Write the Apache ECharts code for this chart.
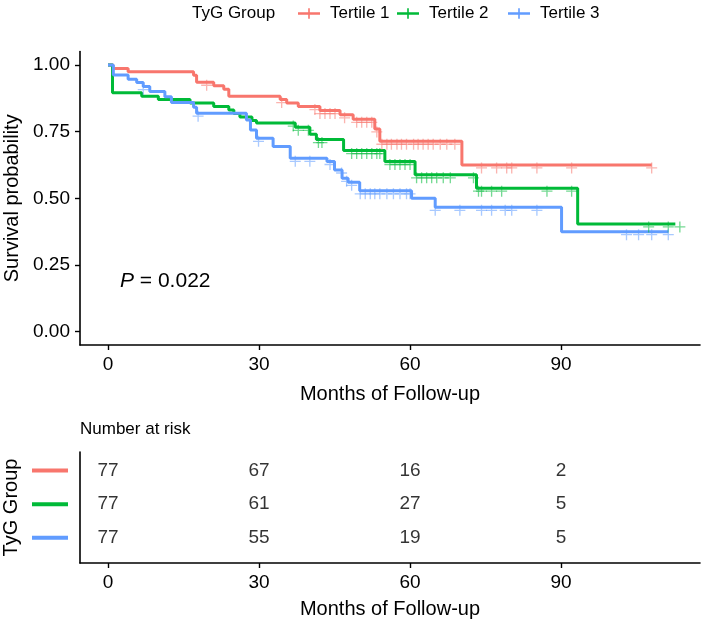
<!DOCTYPE html>
<html>
<head>
<meta charset="utf-8">
<script src="https://cdn.jsdelivr.net/npm/echarts@6/dist/echarts.min.js"></script>
<style>html,body{margin:0;padding:0;background:#fff;}#c{width:708px;height:623px;}</style>
</head>
<body>
<div id="c"></div>
<script>
// ---- Data ----
const groupNames = ['Tertile 1', 'Tertile 2', 'Tertile 3'];
const colors = ['#F8766D', '#00BA38', '#619CFF'];

// Kaplan-Meier step points [time, survival after step]
const t1Times = [0, 1.0, 4.0, 17.0, 17.6, 21.0, 23.0, 24.0, 34.2, 35.5, 37.8, 42.1, 46.1, 48.7, 53.0, 54.0, 70.3, 108];
const t1Surv  = [1.0, 0.987, 0.974, 0.961, 0.935, 0.922, 0.909, 0.883, 0.870, 0.857, 0.844, 0.829, 0.813, 0.796, 0.760, 0.714, 0.625, 0.625];
const t1Censor = [19.6, 34.5, 41.1, 42.1, 43.1, 44.1, 45.1, 47.0, 49.4, 50.4, 51.4, 52.4, 53.4, 54.4, 55.4, 56.3, 57.4, 58.3, 59.3, 60.7, 61.6, 62.6, 63.6, 64.6, 66.0, 67.3, 68.9, 74.2, 77.2, 79.2, 80.2, 85.2, 92.1, 108];

const t2Times = [0, 0.9, 6.7, 10.0, 16.3, 21.0, 24.0, 25.0, 26.2, 28.6, 29.5, 37.2, 40.1, 41.4, 46.8, 55.0, 61.0, 73.2, 93.3, 112.7];
const t2Surv  = [1.0, 0.896, 0.883, 0.870, 0.857, 0.844, 0.831, 0.818, 0.805, 0.792, 0.782, 0.766, 0.740, 0.720, 0.679, 0.638, 0.588, 0.538, 0.404, 0.404];
const t2Censor = [36.8, 37.8, 39.8, 41.8, 42.5, 48.4, 49.4, 50.4, 51.4, 52.4, 53.4, 54.0, 56.0, 57.0, 58.0, 59.0, 60.0, 61.3, 62.3, 63.3, 64.3, 65.3, 66.6, 68.0, 72.6, 73.6, 74.2, 76.2, 78.2, 87.2, 92.1, 107.4, 111.3, 113.6];

const t3Times = [0, 1.06, 4.0, 5.7, 7.0, 8.3, 11.3, 12.6, 17.0, 17.6, 27.5, 28.3, 29.5, 32.8, 36.2, 43.5, 45.0, 46.5, 47.7, 50.0, 60.3, 65.0, 90.1, 111.3];
const t3Surv  = [1.0, 0.962, 0.946, 0.934, 0.919, 0.900, 0.881, 0.859, 0.841, 0.819, 0.794, 0.756, 0.725, 0.694, 0.650, 0.638, 0.606, 0.575, 0.560, 0.528, 0.500, 0.466, 0.375, 0.375];
const t3Censor = [7.0, 17.9, 29.9, 37.2, 40.1, 44.1, 46.4, 47.4, 48.4, 50.1, 51.1, 52.1, 53.0, 54.0, 55.4, 56.7, 58.0, 59.3, 60.0, 65.0, 69.9, 74.2, 76.2, 78.9, 80.2, 85.2, 103.0, 105.4, 108.0, 111.3];

// Number at risk table
const riskTimes = [0, 30, 60, 90];
const risk1 = [77, 67, 16, 2];
const risk2 = [77, 61, 27, 5];
const risk3 = [77, 55, 19, 5];

const xTicks = [0, 30, 60, 90];
const yTicks = [0, 0.25, 0.5, 0.75, 1.0];
const pText = '0.022';

// ---- Build ----
const FONT = 'Liberation Sans, Arial, sans-serif';
const curves = [[t1Times, t1Surv, t1Censor], [t2Times, t2Surv, t2Censor], [t3Times, t3Surv, t3Censor]];
function survAt(times, surv, t) {
  let s = surv[0];
  for (let i = 0; i < times.length; i++) { if (times[i] <= t) s = surv[i]; }
  return s;
}
const crossPath = 'path://M0,4.4 H10 V5.6 H0 Z M4.4,0 H5.6 V10 H4.4 Z';
const legendIcon = 'path://M0,4 H22 V6.4 H0 Z M10.2,0 H11.8 V10.4 H10.2 Z';

const series = [];
curves.forEach((c, g) => {
  series.push({
    name: groupNames[g], type: 'line', step: 'end', xAxisIndex: 0, yAxisIndex: 0,
    showSymbol: false, symbol: 'none', animation: false,
    lineStyle: { color: colors[g], width: 3 }, itemStyle: { color: colors[g] },
    data: c[0].map((t, i) => [t, c[1][i]]), z: 3
  });
  series.push({
    name: groupNames[g] + ' censor', type: 'scatter', xAxisIndex: 0, yAxisIndex: 0,
    symbol: crossPath, symbolSize: 11, symbolOffset: [0, 3], animation: false, silent: true,
    itemStyle: { color: colors[g], opacity: 0.55 },
    data: c[2].map(t => [t, survAt(c[0], c[1], t)]), z: 4
  });
});
[risk1, risk2, risk3].forEach((r, g) => {
  series.push({
    type: 'scatter', xAxisIndex: 1, yAxisIndex: 1, symbolSize: 1, animation: false, silent: true,
    itemStyle: { color: 'rgba(0,0,0,0)' },
    label: { show: true, position: 'inside', formatter: p => String(p.value[2]), color: '#000', fontSize: 19, fontFamily: FONT },
    data: riskTimes.map((t, i) => [t, g + 1, r[i]])
  });
});

const axisLine = { show: true, onZero: false, lineStyle: { color: '#000', width: 1.6 } };
const axisTick = { show: true, length: 5, lineStyle: { color: '#000', width: 1.4 } };
const legendLefts = [293, 392, 503];

const option = {
  animation: false,
  backgroundColor: '#fff',
  textStyle: { fontFamily: FONT },
  title: { text: 'TyG Group', left: 187, top: 0, textStyle: { fontSize: 17, fontWeight: 'normal', color: '#000', fontFamily: FONT } },
  legend: groupNames.map((n, i) => ({
    data: [{ name: n, icon: legendIcon }],
    left: legendLefts[i], top: 0, itemWidth: 22, itemHeight: 11,
    textStyle: { fontSize: 17, color: '#000', fontFamily: FONT, padding: [0, 0, 0, 5] }
  })),
  grid: [
    { left: 80, right: 8, top: 51.6, height: 293.4, containLabel: false, outerBoundsMode: 'none' },
    { left: 80, right: 8, top: 452, height: 111, containLabel: false, outerBoundsMode: 'none' }
  ],
  xAxis: [
    { type: 'value', gridIndex: 0, min: -5.56, max: 117.6,
      name: 'Months of Follow-up', nameLocation: 'middle', nameGap: 39,
      nameTextStyle: { fontSize: 20, color: '#000', fontFamily: FONT },
      axisLine, axisTick: Object.assign({ customValues: xTicks }, axisTick),
      axisLabel: { customValues: xTicks, fontSize: 19, color: '#000', margin: 10, fontFamily: FONT },
      splitLine: { show: false } },
    { type: 'value', gridIndex: 1, min: -5.56, max: 117.6,
      name: 'Months of Follow-up', nameLocation: 'middle', nameGap: 36,
      nameTextStyle: { fontSize: 20, color: '#000', fontFamily: FONT },
      axisLine, axisTick: Object.assign({ customValues: xTicks }, axisTick),
      axisLabel: { customValues: xTicks, fontSize: 19, color: '#000', margin: 10, fontFamily: FONT },
      splitLine: { show: false } }
  ],
  yAxis: [
    { type: 'value', gridIndex: 0, min: -0.05, max: 1.05,
      name: 'Survival probability', nameLocation: 'middle', nameGap: 58, nameRotate: 90,
      nameTextStyle: { fontSize: 20, color: '#000', fontFamily: FONT },
      axisLine, axisTick: Object.assign({ customValues: yTicks }, axisTick),
      axisLabel: { customValues: yTicks, formatter: v => v.toFixed(2), fontSize: 19, color: '#000', margin: 10, fontFamily: FONT },
      splitLine: { show: false } },
    { type: 'value', gridIndex: 1, min: 0.45, max: 3.75, inverse: true,
      name: 'TyG Group', nameLocation: 'middle', nameGap: 57, nameRotate: 90,
      nameTextStyle: { fontSize: 20, color: '#000', fontFamily: FONT },
      axisLine, axisTick: { show: false },
      axisLabel: { customValues: [1, 2, 3], margin: 12, formatter: v => '{g' + v + '|}',
        rich: { g1: { backgroundColor: colors[0], width: 36, height: 4 }, g2: { backgroundColor: colors[1], width: 36, height: 4 }, g3: { backgroundColor: colors[2], width: 36, height: 4 } } },
      splitLine: { show: false } }
  ],
  graphic: [
    { type: 'text', left: 80, top: 421, style: { text: 'Number at risk', fontSize: 17, fill: '#000', fontFamily: FONT } },
    { type: 'text', x: 120, y: 281, style: { text: '{i|P} = ' + pText, rich: { i: { fontStyle: 'italic', fontSize: 21, fontFamily: FONT } }, fontSize: 21, fill: '#000', fontFamily: FONT, verticalAlign: 'middle' } }
  ],
  series
};
const chart = echarts.init(document.getElementById('c'), null, { renderer: 'canvas' });
chart.setOption(option);
</script>
</body>
</html>
